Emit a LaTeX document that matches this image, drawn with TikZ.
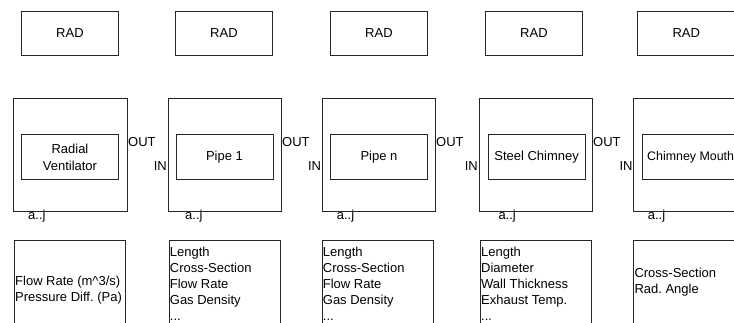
\documentclass[tikz,border=0pt]{standalone}
\usepackage{fontspec}
\setmainfont{Liberation Sans}
\frenchspacing
\begin{document}
\frenchspacing
\begin{tikzpicture}[x=1pt,y=-1pt,
  box/.style={draw=black!85,line width=0.9pt,inner sep=0pt,anchor=north west,font=\fontsize{13}{16.5}\selectfont},
  radbox/.style={box,minimum width=97pt,minimum height=44pt},
  outerbox/.style={box,minimum width=113.4pt,minimum height=112.4pt},
  innerbox/.style={box,minimum width=97pt,minimum height=45pt,align=center},
  parbox/.style={box,minimum width=111pt,minimum height=100pt},
  lbl/.style={inner sep=0pt,font=\fontsize{13}{16}\selectfont,align=left},
]
\clip (0,0) rectangle (734,323);
\useasboundingbox (0,0) rectangle (734,323);

% RAD boxes
\node[radbox] (rad1) at (21,11) {RAD};
\node[radbox] (rad2) at (175,11) {RAD};
\node[radbox] (rad3) at (330,11) {RAD};
\node[radbox] (rad4) at (485,11) {RAD};
\node[radbox] (rad5) at (637.3,11) {RAD};

% outer boxes
\node[outerbox] (out1) at (13.3,98.3) {};
\node[outerbox] (out2) at (167.5,98.3) {};
\node[outerbox] (out3) at (321.7,98.3) {};
\node[outerbox] (out4) at (478.5,98.3) {};
\node[outerbox] (out5) at (633.3,98.3) {};

% inner boxes
\node[innerbox] (in1) at (21,134.3) {Radial\\Ventilator};
\node[innerbox] (in2) at (175.5,134.3) {Pipe 1};
\node[innerbox] (in3) at (330,134.3) {Pipe n};
\node[innerbox] (in4) at (487.7,134.3) {Steel Chimney};
\node[innerbox,font=\fontsize{12.4}{16}\selectfont] (in5) at (641.7,134.3) {Chimney Mouth};

% OUT labels
\node[lbl,anchor=base west] (o1) at (128,146.7) {OUT};
\node[lbl,anchor=base west] (o2) at (282,146.7) {OUT};
\node[lbl,anchor=base west] (o3) at (436,146.7) {OUT};
\node[lbl,anchor=base west] (o4) at (593,146.7) {OUT};

% IN labels
\node[lbl,anchor=base east] (i2) at (167,170.7) {IN};
\node[lbl,anchor=base east] (i3) at (321.2,170.7) {IN};
\node[lbl,anchor=base east] (i4) at (478,170.7) {IN};
\node[lbl,anchor=base east] (i5) at (632.8,170.7) {IN};

% a..j labels
\node[lbl,anchor=base west] (a1) at (28,219.3) {a..j};
\node[lbl,anchor=base west] (a2) at (185,219.3) {a..j};
\node[lbl,anchor=base west] (a3) at (336.7,219.3) {a..j};
\node[lbl,anchor=base west] (a4) at (498.3,219.3) {a..j};
\node[lbl,anchor=base west] (a5) at (647.7,219.3) {a..j};

% parameter boxes
\node[parbox] (p1) at (14,240) {};
\node[parbox] (p2) at (168.7,240) {};
\node[parbox] (p3) at (321.7,240) {};
\node[parbox] (p4) at (480,240) {};
\node[parbox] (p5) at (633.3,240) {};

\node[lbl,anchor=west] (t1) at (15,290) {Flow Rate (m\^{}3/s)\\Pressure Diff. (Pa)};
\node[lbl,anchor=north west] (t2) at (169.7,246.4) {Length\\Cross-Section\\Flow Rate\\Gas Density\\...};
\node[lbl,anchor=north west] (t3) at (322.7,246.4) {Length\\Cross-Section\\Flow Rate\\Gas Density\\...};
\node[lbl,anchor=north west] (t4) at (481,246.4) {Length\\Diameter\\Wall Thickness\\Exhaust Temp.\\...};
\node[lbl,anchor=west] (t5) at (634.3,282) {Cross-Section\\Rad. Angle};
\end{tikzpicture}
\end{document}
